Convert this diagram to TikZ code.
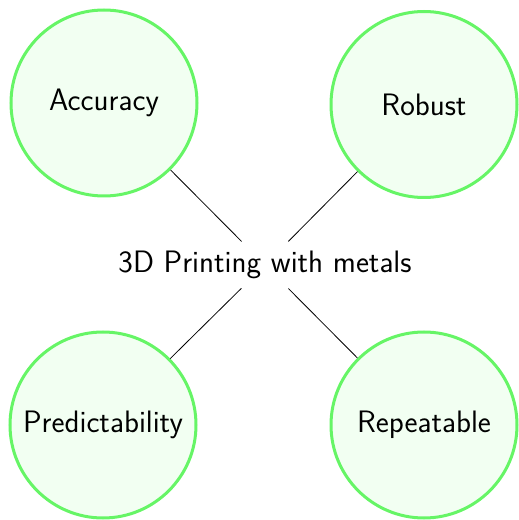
\documentclass[tikz,border=0pt]{standalone}
\usepackage{fontspec}
\usetikzlibrary{positioning}
\definecolor{ringgreen}{RGB}{102,245,102}
\definecolor{softgreen}{RGB}{242,255,242}
\tikzset{
  topic/.style={circle, draw=ringgreen, fill=softgreen, line width=3pt,
    minimum size=186pt, inner sep=0pt, font=\sffamily\fontsize{31}{36}\selectfont},
  hub/.style={circle, minimum size=66pt, inner sep=0pt},
  hublabel/.style={font=\sffamily\fontsize{31}{36}\selectfont},
  link/.style={draw=black, line width=0.8pt}
}
\begin{document}
\begin{tikzpicture}[x=1pt,y=1pt]
  \useasboundingbox (0,0) rectangle (519,520);
  \node[topic] (acc) at (104,417) {Accuracy};
  \node[topic] (rob) at (424,415.5) {Robust};
  \node[topic] (pre) at (103,95) {Predictability};
  \node[topic] (rep) at (424,95) {Repeatable};
  \node[hub] (hub) at (265,255) {};
  \node[hublabel] (title) at (hub.center) {3D Printing with metals};
  \draw[link] (hub) -- (acc);
  \draw[link] (hub) -- (rob);
  \draw[link] (hub) -- (pre);
  \draw[link] (hub) -- (rep);
\end{tikzpicture}
\end{document}
